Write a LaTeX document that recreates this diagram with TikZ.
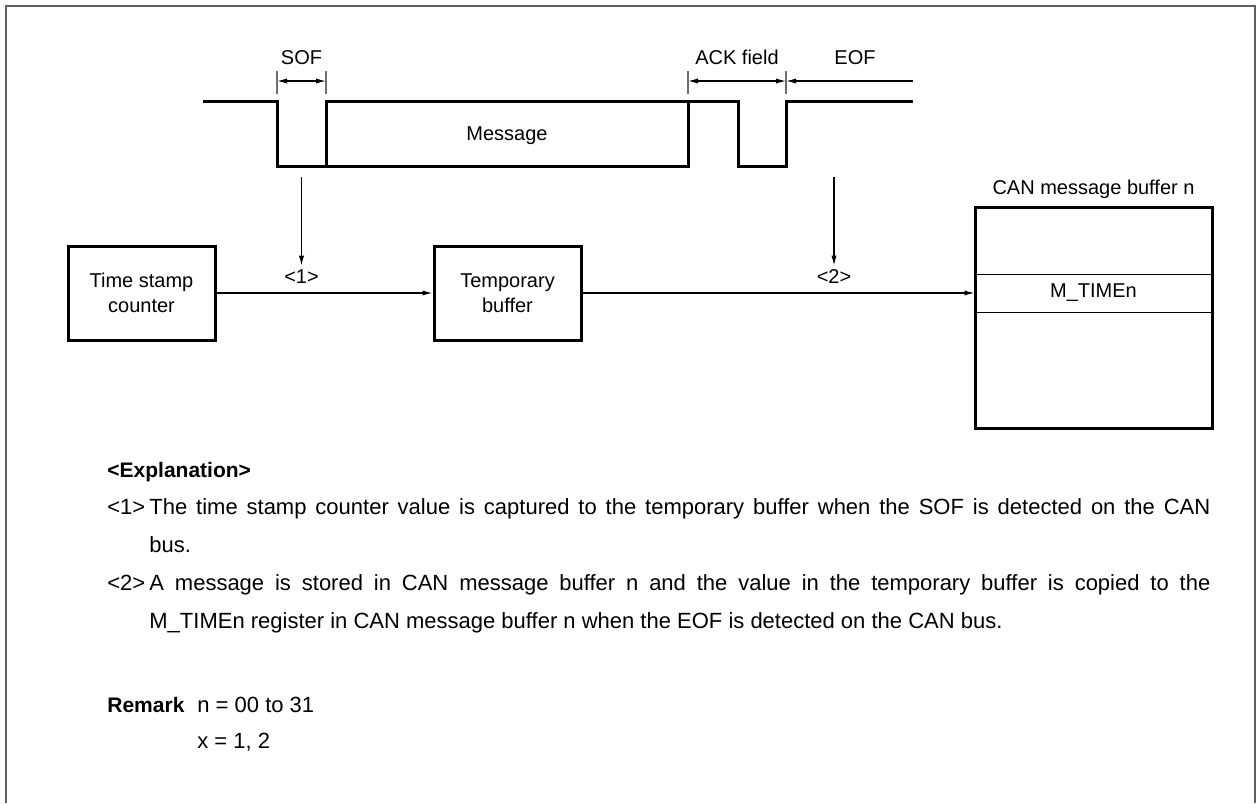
\documentclass[tikz,border=0pt]{standalone}
\usepackage{fontspec}
\setmainfont{Liberation Sans}
\usetikzlibrary{positioning,arrows.meta}
\definecolor{framegray}{RGB}{95,95,95}
\definecolor{tickgray}{RGB}{110,110,110}
\tikzset{
  blockbox/.style={draw, line width=1.5pt, minimum width=73.5pt, minimum height=47pt, align=center, inner sep=0pt, font=\fontsize{10}{12.5}\selectfont},
  flow/.style={-{Latex[length=5pt,width=2.6pt]}, line width=0.6pt},
  dimarrow/.style={{Latex[length=5pt,width=2.6pt]}-{Latex[length=5pt,width=2.6pt]}, line width=0.6pt},
  tick/.style={draw=tickgray, line width=0.6pt},
  wave/.style={line width=1.5pt, line join=miter},
  lbl/.style={font=\fontsize{10}{12}\selectfont, inner sep=2pt},
  body/.style={font=\fontsize{11}{19}\selectfont, inner sep=0pt},
  bodyb/.style={font=\fontsize{10.5}{19}\selectfont\bfseries, inner sep=0pt}
}
\begin{document}
\begin{tikzpicture}[x=0.5pt, y=-0.5pt]
\useasboundingbox (0,0) rectangle (1256,803);
\draw[framegray, line width=1pt] (6,803) -- (6,6) -- (1255,6) -- (1255,803);
% bus waveform
\draw[wave] (203,101) -- (277,101) -- (277,166) -- (688,166) -- (688,101);
\draw[wave] (326,166) -- (326,101) -- (738,101) -- (738,166) -- (786,166) -- (786,101) -- (913,101);
\node[lbl] (msg) at (507,136) {Message};
% field markers
\foreach \x/\n in {277/a, 326/b, 688/c, 786/d} {
  \draw[tick] (\x,71) -- (\x,94);
  \coordinate (m\n) at (\x,81);
}
\coordinate (eofend) at (913,81);
\draw[dimarrow] (ma) -- (mb);
\draw[dimarrow] (mc) -- (md);
\draw[flow] (eofend) -- (md);
\node[lbl, anchor=base] (sof) at (301.5,64) {SOF};
\node[lbl, anchor=base] (ack) at (737,64) {ACK field};
\node[lbl, anchor=base] (eof) at (855,64) {EOF};
% capture path
\node[blockbox] (tsc) at (141.5,293) {Time stamp\\counter};
\node[blockbox] (tmp) at (507.5,293) {Temporary\\buffer};
\node[draw, line width=1.5pt, minimum width=118.5pt, minimum height=110.5pt, inner sep=0pt] (cbuf) at (1093.5,317.5) {};
\node[draw, line width=0.5pt, minimum width=118.5pt, minimum height=19pt, inner sep=0pt, font=\fontsize{10}{12}\selectfont] (mtime) at (1093.5,293) {M\_TIMEn};
\node[lbl, above=1pt of cbuf] (cbuflbl) {CAN message buffer n};
\draw[flow] (tsc) -- (tmp);
\draw[flow] (tmp) -- (mtime);
\coordinate (sofpt) at (301.5,177);
\coordinate (eofpt) at (834,177);
\node[lbl] (n1) at (301.5,277) {<1>};
\node[lbl] (n2) at (834,277) {<2>};
\draw[flow] (sofpt) -- (n1);
\draw[flow] (eofpt) -- (n2);
% explanation
\node[bodyb, anchor=base west] (expl) at (107,477) {<Explanation>};
\node[body, anchor=base west] (k1) at (107,514.5) {<1>};
\node[body, anchor=base west, text width=530.5pt, align=justify] (t1) at (149,514.5) {The time stamp counter value is captured to the temporary buffer when the SOF is detected on the CAN\linebreak bus.};
\node[body, anchor=base west] (k2) at (107,590.5) {<2>};
\node[body, anchor=base west, text width=530.5pt, align=justify] (t2) at (149,590.5) {A message is stored in CAN message buffer n and the value in the temporary buffer is copied to the\linebreak M\_TIMEn register in CAN message buffer n when the EOF is detected on the CAN bus.};
\node[bodyb, anchor=base west] (rem) at (107,712.5) {Remark};
\node[body, anchor=base west] (r1) at (197,712.5) {n = 00 to 31};
\node[body, anchor=base west] (r2) at (197,748.5) {x = 1, 2};
\end{tikzpicture}
\end{document}
